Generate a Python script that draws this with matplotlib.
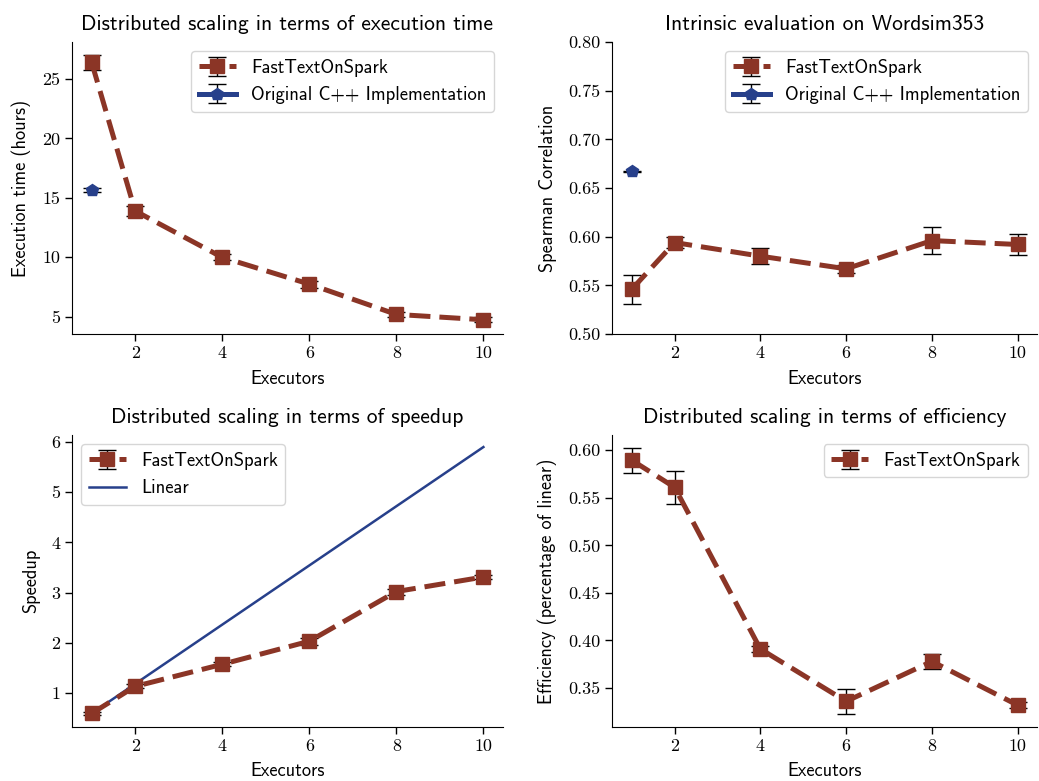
import matplotlib
matplotlib.use("Agg")
import matplotlib.pyplot as plt

plt.rcParams['font.family'] = ['cmss10', 'DejaVu Sans']
plt.rcParams['axes.unicode_minus'] = False
plt.rcParams['mathtext.fontset'] = 'cm'

executors = [1, 2, 4, 6, 8, 10]
exec_time = [26.4, 13.9, 10.0, 7.75, 5.2, 4.75]
exec_time_err = [0.65, 0.4, 0.25, 0.3, 0.2, 0.2]
cpp_exec_time = [15.65]
cpp_exec_time_err = [0.15]

spearman = [0.546, 0.594, 0.580, 0.567, 0.596, 0.592]
spearman_err = [0.015, 0.006, 0.008, 0.004, 0.014, 0.011]
cpp_spearman = [0.667]
cpp_spearman_err = [0.001]

speedup = [0.59, 1.13, 1.57, 2.03, 3.02, 3.31]
speedup_err = [0.03, 0.04, 0.04, 0.07, 0.06, 0.04]
linear = [0.59, 1.18, 2.36, 3.54, 4.72, 5.90]

efficiency = [0.5895, 0.561, 0.391, 0.336, 0.378, 0.332]
efficiency_err = [0.013, 0.017, 0.003, 0.013, 0.008, 0.003]

RED = '#8B3526'
BLUE = '#27408B'

fig = plt.figure(figsize=(10.39, 7.81), dpi=100)
ax1 = fig.add_axes([0.0693, 0.5723, 0.4148, 0.3739])
ax2 = fig.add_axes([0.5895, 0.5723, 0.4085, 0.3739])
ax3 = fig.add_axes([0.0693, 0.0691, 0.4148, 0.3739])
ax4 = fig.add_axes([0.5895, 0.0691, 0.4085, 0.3739])

ekw = dict(ecolor='black', elinewidth=1, capsize=6.5, capthick=1)
fkw = dict(color=RED, linestyle='--', linewidth=3.6, marker='s', markersize=10,
           dashes=(4.2, 1.8), label='FastTextOnSpark')
ckw = dict(color=BLUE, linestyle='-', linewidth=3.6, marker='p', markersize=9,
           label='Original C++ Implementation')

TITLE_FS = 15.5
LABEL_FS = 13.2

def style(ax, ylabel, title):
    for s in ('top', 'right'):
        ax.spines[s].set_visible(False)
    ax.set_xticks([2, 4, 6, 8, 10])
    for lab in ax.get_xticklabels() + ax.get_yticklabels():
        lab.set_fontfamily('cmr10')
        lab.set_fontsize(13)
    ax.tick_params(length=5, width=1)
    ax.set_xlabel('Executors', fontsize=LABEL_FS, labelpad=6)
    ax.set_ylabel(ylabel, fontsize=LABEL_FS, labelpad=8)
    ax.set_title(title, fontsize=TITLE_FS, pad=9)

def legend(ax, loc, handles=None, labels=None):
    kw = dict(loc=loc, fontsize=13.4, frameon=True, fancybox=True,
              edgecolor='#cccccc', framealpha=0.8, handlelength=2.0)
    if handles is not None:
        return ax.legend(handles, labels, **kw)
    return ax.legend(**kw)

# Panel 1
ax1.errorbar(executors, exec_time, yerr=exec_time_err, **fkw, **ekw)
ax1.errorbar([executors[0]], cpp_exec_time, yerr=cpp_exec_time_err, **ckw, **ekw)
ax1.set_ylim(3.55, 28.1)
ax1.set_yticks([5, 10, 15, 20, 25])
style(ax1, 'Execution time (hours)', 'Distributed scaling in terms of execution time')
legend(ax1, 'upper right')

# Panel 2
ax2.errorbar(executors, spearman, yerr=spearman_err, **fkw, **ekw)
ax2.errorbar([executors[0]], cpp_spearman, yerr=cpp_spearman_err, **ckw, **ekw)
ax2.set_ylim(0.5, 0.8)
ax2.set_yticks([0.50, 0.55, 0.60, 0.65, 0.70, 0.75, 0.80])
ax2.set_yticklabels(['0.50', '0.55', '0.60', '0.65', '0.70', '0.75', '0.80'])
style(ax2, 'Spearman Correlation', 'Intrinsic evaluation on Wordsim353')
legend(ax2, 'upper right')

# Panel 3
eb3 = ax3.errorbar(executors, speedup, yerr=speedup_err, **fkw, **ekw)
ln3, = ax3.plot(executors, linear, color=BLUE, linewidth=1.8, label='Linear')
ax3.set_ylim(0.32, 6.14)
ax3.set_yticks([1, 2, 3, 4, 5, 6])
style(ax3, 'Speedup', 'Distributed scaling in terms of speedup')
legend(ax3, 'upper left', [eb3, ln3], ['FastTextOnSpark', 'Linear'])

# Panel 4
ax4.errorbar(executors, efficiency, yerr=efficiency_err, **fkw, **ekw)
ax4.set_ylim(0.309, 0.616)
ax4.set_yticks([0.35, 0.40, 0.45, 0.50, 0.55, 0.60])
ax4.set_yticklabels(['0.35', '0.40', '0.45', '0.50', '0.55', '0.60'])
style(ax4, 'Efficiency (percentage of linear)', 'Distributed scaling in terms of efficiency')
legend(ax4, 'upper right')

fig.savefig('out.png', dpi=100)
